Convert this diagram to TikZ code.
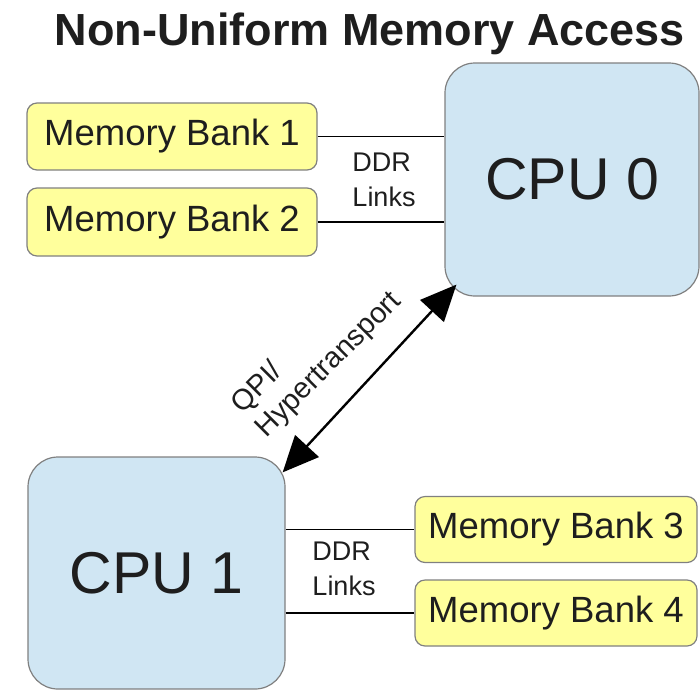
\documentclass[tikz,border=0pt]{standalone}
\usepackage{fontspec}
\setmainfont{Liberation Sans}
\usetikzlibrary{arrows.meta,calc}
\definecolor{cpublue}{RGB}{208,230,243}
\definecolor{memyellow}{RGB}{255,255,156}
\definecolor{boxgrey}{RGB}{128,128,128}
\definecolor{inkgrey}{RGB}{30,30,30}
\begin{document}
\begin{tikzpicture}[x=1pt,y=-1pt,
  membox/.style={draw=boxgrey, line width=1.2pt, fill=memyellow, rounded corners=10pt,
    inner sep=0pt, minimum height=67pt, text=inkgrey, font=\fontsize{36.5}{40}\selectfont},
  cpubox/.style={draw=boxgrey, line width=1.2pt, fill=cpublue, rounded corners=30pt,
    inner sep=0pt, text=inkgrey, font=\fontsize{59}{64}\selectfont},
  link/.style={line width=1.6pt, black},
  ddr/.style={align=left, inner sep=0pt, text=inkgrey, font=\fontsize{27}{35}\selectfont},
  qpi/.style={align=left, inner sep=0pt, text=inkgrey, rotate=45, font=\fontsize{29}{34}\selectfont},
  bus/.style={line width=2.4pt, black, {Triangle[length=36pt,width=32pt]}-{Triangle[length=36pt,width=32pt]}},
  titletext/.style={anchor=base, inner sep=0pt, text=inkgrey, font=\bfseries\fontsize{45}{50}\selectfont}
]
\useasboundingbox (0,0) rectangle (700,691);

\node[titletext] (title) at (370,45) {Non-Uniform Memory Access};

\node[membox, minimum width=290pt] (mb1) at (172,136.5) {Memory Bank 1};
\node[membox, minimum width=290pt, minimum height=68pt] (mb2) at (172,222) {Memory Bank 2};
\node[cpubox, minimum width=254pt, minimum height=233pt] (cpu0) at (572,179.5) {CPU 0};

\node[cpubox, minimum width=257pt, minimum height=232pt] (cpu1) at (156.5,573) {CPU 1};
\node[membox, minimum width=282pt, minimum height=66pt] (mb3) at (556,529.5) {Memory Bank 3};
\node[membox, minimum width=282pt, minimum height=66pt] (mb4) at (556,613) {Memory Bank 4};

\draw[link] (mb1.east) -- (mb1.east -| cpu0.west);
\draw[link] (mb2.east) -- (mb2.east -| cpu0.west);
\draw[link] (cpu1.east |- mb3.west) -- (mb3.west);
\draw[link] (cpu1.east |- mb4.west) -- (mb4.west);

\node[ddr] (ddr0) at (384,180) {DDR\\Links};
\node[ddr] (ddr1) at (344,569) {DDR\\Links};

\coordinate (q0) at ($(cpu0.south west)+(12,-12)$);
\coordinate (q1) at ($(cpu1.north east)+(-3,16)$);
\draw[bus] (q0) -- (q1);

\node[qpi] (qpilabel) at (317,353) {QPI/\\Hypertransport};
\end{tikzpicture}
\end{document}
